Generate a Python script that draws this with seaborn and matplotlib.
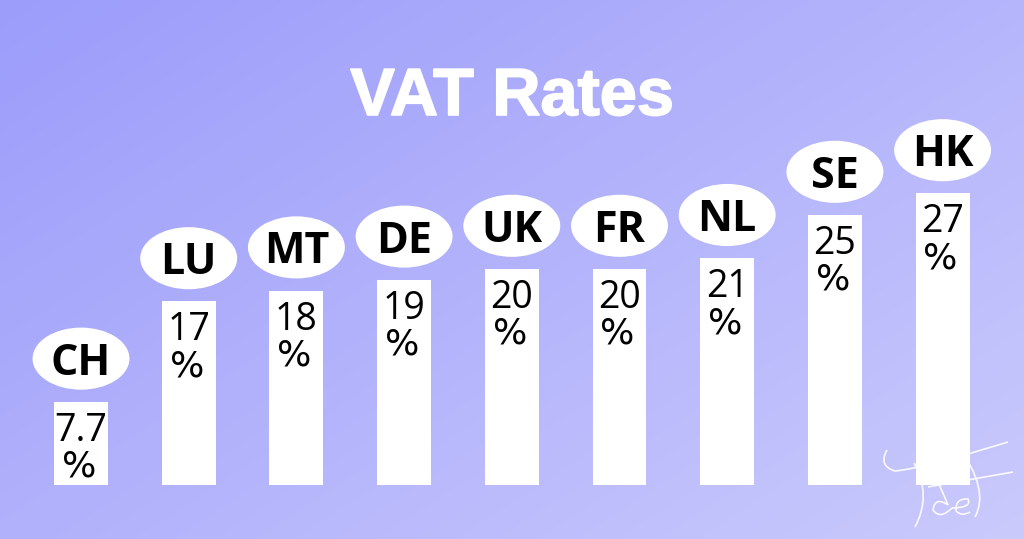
import numpy as np
import pandas as pd
import matplotlib
matplotlib.use("Agg")
import matplotlib.pyplot as plt
from matplotlib.patches import Ellipse, PathPatch
from matplotlib.path import Path
import matplotlib.patheffects as pe
import seaborn as sns

countries = ["CH", "LU", "MT", "DE", "UK", "FR", "NL", "SE", "HK"]
rates = [7.7, 17, 18, 19, 20, 20, 21, 25, 27]
rate_labels = ["7.7\n%", "17\n%", "18\n%", "19\n%", "20\n%", "20\n%", "21\n%", "25\n%", "27\n%"]
title = "VAT Rates"

df = pd.DataFrame({"country": countries, "rate": rates})

sns.set_theme(style="white")
W, H = 1024, 539
fig = plt.figure(figsize=(W / 100, H / 100), dpi=100)
PT = 72 / 100  # points per pixel

# background gradient
bg = fig.add_axes([0, 0, 1, 1])
bg.set_axis_off()
xx, yy = np.meshgrid(np.linspace(0, 1, 256), np.linspace(0, 1, 256))
t = np.clip(0.55 * xx + 0.45 * yy, 0, 1)
c0 = np.array([156, 156, 251]) / 255.0
c1 = np.array([202, 202, 253]) / 255.0
img = c0[None, None, :] * (1 - t[..., None]) + c1[None, None, :] * t[..., None]
bg.imshow(img, extent=[0, 1, 0, 1], aspect="auto", origin="upper")
bg.set_xlim(0, 1)
bg.set_ylim(0, 1)

# bar axes: x spacing 107.7 px, y scale 10.8 px per unit
left_px = 81 - 107.7 / 2
width_px = 107.7 * 9
bottom_px = H - 485
height_px = 10.8 * 40
ax = fig.add_axes([left_px / W, bottom_px / H, width_px / W, height_px / H])
ax.patch.set_alpha(0)
sns.barplot(data=df, x="country", y="rate", color="white", saturation=1,
            width=0.5, edgecolor="none", ax=ax)
ax.set_xlim(-0.5, 8.5)
ax.set_ylim(0, 40)
ax.set_axis_off()

for i, (v, lab, c) in enumerate(zip(rates, rate_labels, countries)):
    num, pct = lab.split("\n")
    ax.annotate(num, xy=(i, v), xytext=(0, -39 * PT), textcoords="offset points",
                ha="center", va="baseline", fontsize=27, family="Open Sans",
                color="black")
    ax.annotate(pct, xy=(i, v), xytext=(-2 * PT, -75 * PT), textcoords="offset points",
                ha="center", va="baseline", fontsize=26, family="DejaVu Sans",
                color="black")
    e = Ellipse((i, v + 4.0), width=0.9, height=5.75, facecolor="white",
                edgecolor="none")
    ax.add_patch(e)
    ax.annotate(c, xy=(i, v + 4.0), xytext=(0, -16 * PT), textcoords="offset points",
                ha="center", va="baseline", fontsize=31, family="Open Sans",
                fontweight="bold", color="black")

fig.text(512 / W, 1 - 115 / H, title, ha="center", va="baseline",
         fontsize=48, family="Liberation Sans", fontweight="bold", color="white",
         path_effects=[pe.withStroke(linewidth=1.2, foreground="white",
                                     joinstyle="round", capstyle="round")])

# signature decoration (bottom right)
sig = fig.add_axes([0, 0, 1, 1])
sig.set_axis_off()
sig.patch.set_alpha(0)
sig.set_xlim(0, W)
sig.set_ylim(H, 0)
M, C3, L = Path.MOVETO, Path.CURVE3, Path.LINETO
strokes = [
    [(M, (887, 450)), (C3, (878, 466)), (C3, (895, 471)),
     (C3, (910, 470)), (C3, (958, 457)), (L, (1008, 442))],
    [(M, (914, 463)), (C3, (932, 495)), (C3, (915, 527))],
    [(M, (928, 487)), (L, (1013, 472))],
    [(M, (958, 446)), (C3, (990, 490)), (C3, (975, 517))],
    [(M, (936, 478)), (C3, (944, 495)), (C3, (948, 505)),
     (C3, (935, 496)), (C3, (933, 510)), (C3, (940, 520)), (C3, (952, 508))],
    [(M, (952, 508)), (C3, (972, 508)), (C3, (968, 499)),
     (C3, (955, 498)), (C3, (956, 511)), (C3, (962, 517)), (C3, (970, 512))],
]
for s in strokes:
    codes = [c for c, _ in s]
    verts = [p for _, p in s]
    sig.add_patch(PathPatch(Path(verts, codes), facecolor="none", edgecolor="white",
                            lw=1.2, alpha=0.9))

fig.savefig("out.png", dpi=100)
